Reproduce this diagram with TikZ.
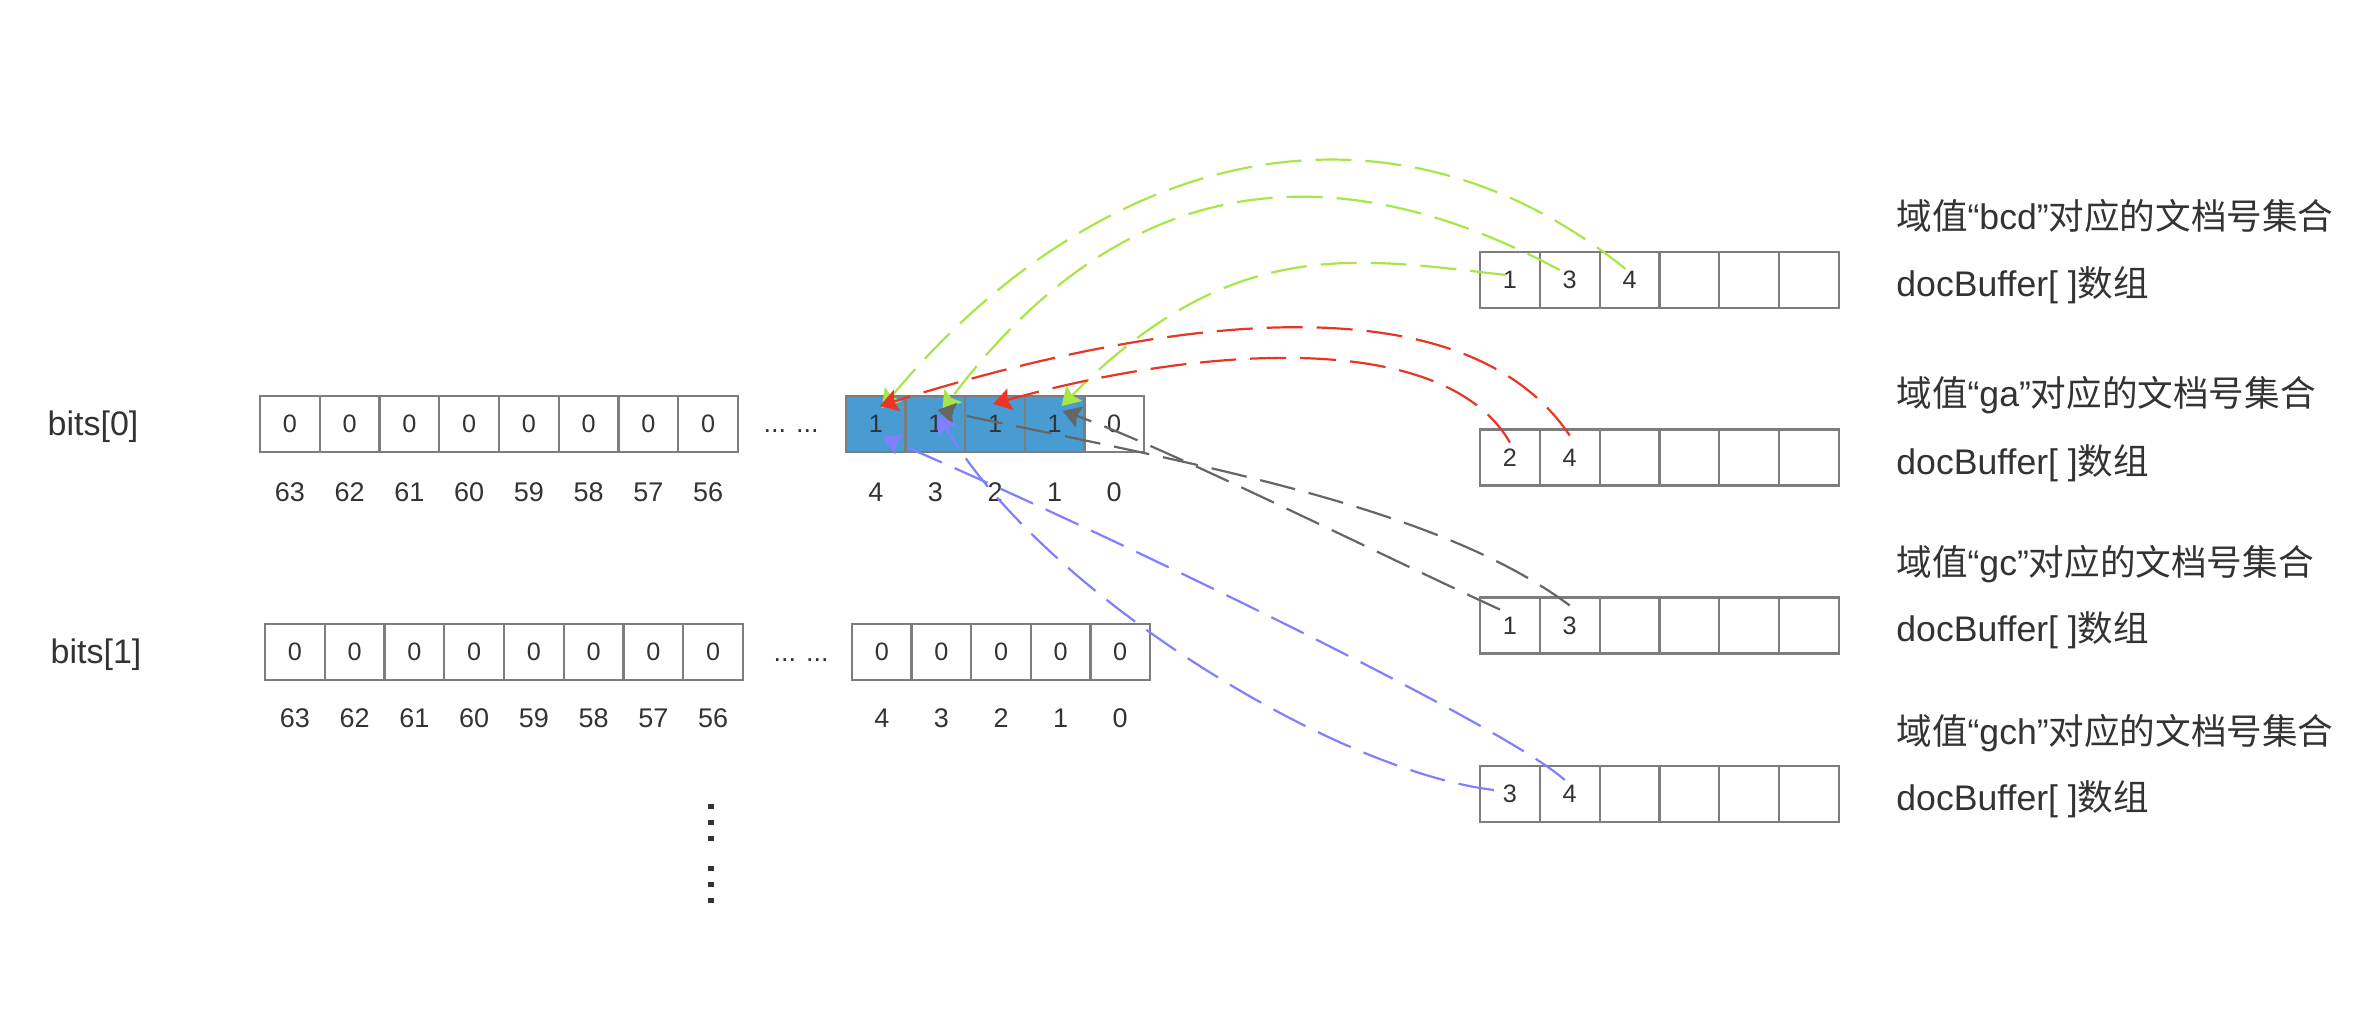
\documentclass[tikz,border=0pt]{standalone}
\usepackage{fontspec}
\setmainfont{Liberation Sans}
\newfontfamily\cjk{Noto Sans CJK SC}
\usetikzlibrary{arrows.meta,calc}
\definecolor{cellgray}{RGB}{125,125,125}
\definecolor{bitblue}{RGB}{72,156,210}
\definecolor{txt}{RGB}{51,51,51}
\definecolor{lgreen}{RGB}{168,230,72}
\definecolor{lred}{RGB}{234,52,36}
\definecolor{lgray}{RGB}{102,102,102}
\definecolor{lblue}{RGB}{128,128,255}
\begin{document}
\begin{tikzpicture}[x=0.5pt,y=-0.5pt,
  cell/.style={draw=cellgray, line width=1.1pt, minimum width=29.9pt, minimum height=28pt, inner sep=0pt, text=txt, font=\fontsize{12.6}{14}\selectfont},
  setbit/.style={cell, fill=bitblue},
  lbl/.style={inner sep=0pt, text=txt, font=\fontsize{13.5}{15}\selectfont},
  rowname/.style={inner sep=0pt, text=txt, font=\fontsize{17}{20}\selectfont},
  rtext/.style={inner sep=0pt, anchor=west, text=txt, font=\fontsize{17.8}{21}\selectfont},
  conn/.style={line width=1.1pt, dash pattern=on 18pt off 7pt, -{Stealth[length=9pt,width=11pt,inset=1.5pt]}},
]
\useasboundingbox (0,0) rectangle (2372,1018);

% ---- row names
\node[rowname] (bits0) at (93,427) {bits[0]};
\node[rowname] (bits1) at (96,655) {bits[1]};

% ---- row 0
\foreach \i in {0,...,7} {
  \pgfmathsetmacro\cx{289.9+59.75*\i}
  \pgfmathtruncatemacro\bt{63-\i}
  \node[cell] (r0c\bt) at (\cx,424) {0};
  \node[lbl] (r0l\bt) at (\cx,492) {\bt};
}
\node[lbl] (r0dots) at (791,431) {... ...};
\foreach \b/\v/\s in {4/1/setbit,3/1/setbit,2/1/setbit,1/1/setbit,0/0/cell} {
  \pgfmathsetmacro\cx{875.8+59.6*(4-\b)}
  \node[\s] (r0c\b) at (\cx,424) {\v};
  \node[lbl] (r0l\b) at (\cx,492) {\b};
}

% ---- row 1
\foreach \i in {0,...,7} {
  \pgfmathsetmacro\cx{294.9+59.75*\i}
  \pgfmathtruncatemacro\bt{63-\i}
  \node[cell] (r1c\bt) at (\cx,652) {0};
  \node[lbl] (r1l\bt) at (\cx,718) {\bt};
}
\node[lbl] (r1dots) at (801,660) {... ...};
\foreach \b in {4,3,2,1,0} {
  \pgfmathsetmacro\cx{881.8+59.6*(4-\b)}
  \node[cell] (r1c\b) at (\cx,652) {0};
  \node[lbl] (r1l\b) at (\cx,718) {\b};
}

% ---- vertical dots
\foreach \yy in {806,822,838,868,884,900}
  \fill[txt] ({708},{\yy-2.5}) rectangle ({714},{\yy+2.5});

% ---- buffers
\node[cell] (bcd1) at (1509.9,280) {1};
\node[cell] (bcd2) at (1569.7,280) {3};
\node[cell] (bcd3) at (1629.5,280) {4};
\foreach \i in {4,5,6} \node[cell] (bcd\i) at ({1509.9+59.8*(\i-1)},280) {};

\node[cell] (ga1) at (1509.9,457.5) {2};
\node[cell] (ga2) at (1569.7,457.5) {4};
\foreach \i in {3,...,6} \node[cell] (ga\i) at ({1509.9+59.8*(\i-1)},457.5) {};

\node[cell] (gc1) at (1509.9,625.5) {1};
\node[cell] (gc2) at (1569.7,625.5) {3};
\foreach \i in {3,...,6} \node[cell] (gc\i) at ({1509.9+59.8*(\i-1)},625.5) {};

\node[cell] (gch1) at (1509.9,794) {3};
\node[cell] (gch2) at (1569.7,794) {4};
\foreach \i in {3,...,6} \node[cell] (gch\i) at ({1509.9+59.8*(\i-1)},794) {};

% ---- right texts
\node[rtext] (h1) at (1896,216) {{\cjk 域值}“bcd”{\cjk 对应的文档号集合}};
\node[rtext] (d1) at (1896,285) {docBuffer[ ]{\cjk 数组}};
\node[rtext] (h2) at (1896,395) {{\cjk 域值}“ga”{\cjk 对应的文档号集合}};
\node[rtext] (d2) at (1896,463) {docBuffer[ ]{\cjk 数组}};
\node[rtext] (h3) at (1896,564) {{\cjk 域值}“gc”{\cjk 对应的文档号集合}};
\node[rtext] (d3) at (1896,630) {docBuffer[ ]{\cjk 数组}};
\node[rtext] (h4) at (1896,733) {{\cjk 域值}“gch”{\cjk 对应的文档号集合}};
\node[rtext] (d4) at (1896,799) {docBuffer[ ]{\cjk 数组}};

% ---- connectors
\draw[conn, lgreen] ($(bcd1)+(-4,-5)$) .. controls +(-150,-17) and +(170,-172) .. ($(r0c1)+(7,-18)$);
\draw[conn, lgreen] ($(bcd2)+(-10,-10)$) .. controls +(-229,-122) and +(180,-240) .. ($(r0c3)+(7,-14)$);
\draw[conn, lgreen] ($(bcd3)+(-4,-11)$) .. controls +(-226,-183) and +(228,-273) .. ($(r0c4)+(6,-16)$);

\draw[conn, lred] ($(ga1)+(0,-15)$) .. controls +(-65,-113) and +(211,-59) .. ($(r0c2)+(-2,-20)$);
\draw[conn, lred] ($(ga2)+(0,-22)$) .. controls +(-106,-158) and +(285,-90) .. ($(r0c4)+(4,-18)$);

\draw[conn, lgray] ($(gc1)+(-10,-16)$) .. controls +(-120,-55) and +(100,35) .. ($(r0c1)+(8,-13)$);
\draw[conn, lgray] ($(gc2)+(0,-20)$) .. controls +(-128,-96) and +(272,56) .. ($(r0c3)+(2,-14)$);

\draw[conn, lblue] ($(gch1)+(-16,-4)$) .. controls +(-164,-20) and +(102,175) .. ($(r0c3)+(3,-9)$);
\draw[conn, lblue] ($(gch2)+(-5,-14)$) .. controls +(-60,-55) and +(200,85) .. ($(r0c4)+(7,13)$);
\end{tikzpicture}
\end{document}
